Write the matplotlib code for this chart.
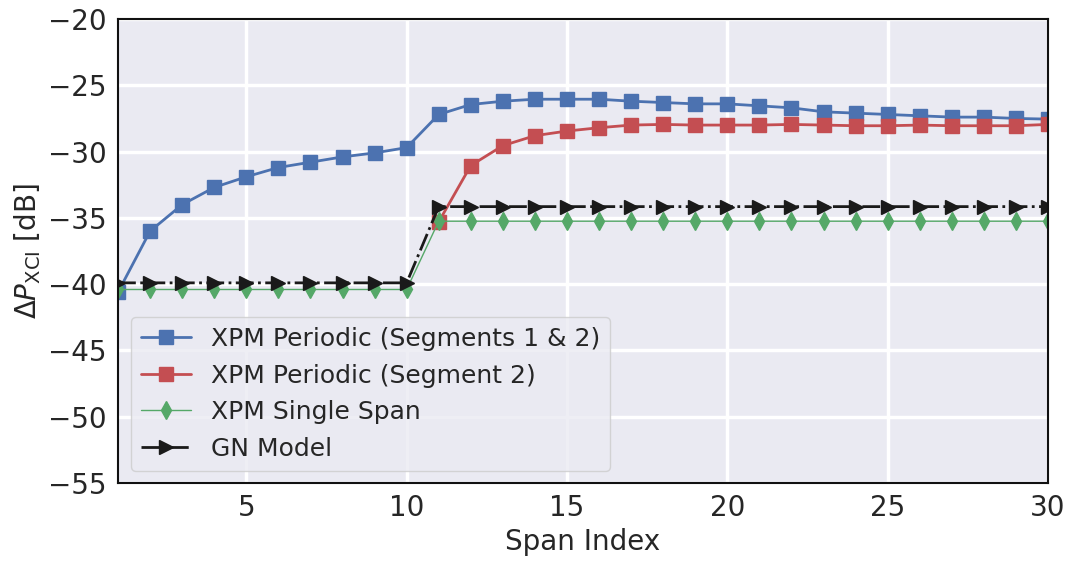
import numpy as np
import matplotlib
matplotlib.use("Agg")
import matplotlib.pyplot as plt
import seaborn as sns

spans = list(range(1, 31))

xpm_seg12 = [-40.6, -36.0, -34.0, -32.7, -31.9, -31.2, -30.8, -30.4, -30.1, -29.7,
             -27.2, -26.45, -26.2, -26.05, -26.05, -26.05, -26.2, -26.3, -26.4, -26.4,
             -26.55, -26.7, -27.0, -27.1, -27.2, -27.3, -27.4, -27.4, -27.5, -27.55]
xpm_seg2 = [np.nan] * 10 + [-35.3, -31.05, -29.55, -28.8, -28.45, -28.2, -28.0, -27.95, -28.0, -28.0,
                           -28.0, -27.95, -28.0, -28.05, -28.05, -28.0, -28.05, -28.05, -28.05, -27.95]
xpm_single = [-40.4] * 10 + [-35.25] * 20
gn_model = [-39.9] * 10 + [-34.15] * 20

sns.set_theme(style="darkgrid")
plt.rcParams["font.family"] = ["DejaVu Sans"]
plt.rcParams["mathtext.fontset"] = "dejavusans"

fig = plt.figure(figsize=(10.76, 5.67), dpi=100)
ax = fig.add_axes([0.1097, 0.148, 0.8643, 0.8185])

ax.plot(spans, xpm_seg12, color="#4C72B0", marker="s", markersize=10, lw=2,
        label="XPM Periodic (Segments 1 & 2)")
ax.plot(spans, xpm_seg2, color="#C44E52", marker="s", markersize=10, lw=2,
        label="XPM Periodic (Segment 2)")
ax.plot(spans, xpm_single, color="#55A868", marker="d", markersize=9, lw=1,
        label="XPM Single Span")
ax.plot(spans, gn_model, color="#1a1a1a", marker=">", markersize=10, lw=2,
        linestyle="-.", label="GN Model")

ax.set_xlim(1, 30)
ax.set_ylim(-55, -20)
ax.set_xticks([5, 10, 15, 20, 25, 30])
ax.set_yticks(np.arange(-55, -19, 5))
ax.grid(True, color="white", lw=2.5)
ax.tick_params(labelsize=20, length=0, pad=8)
for s in ax.spines.values():
    s.set_visible(True)
    s.set_color("#111111")
    s.set_linewidth(1.5)

ax.set_xlabel("Span Index", fontsize=20)
ax.set_ylabel(r"$\Delta P_{\mathrm{XCI}}$ [dB]", fontsize=20)
ax.legend(loc="lower left", fontsize=18, frameon=True, framealpha=0.8,
          handlelength=2.0, borderpad=0.4)

fig.savefig("out.png", dpi=100)
